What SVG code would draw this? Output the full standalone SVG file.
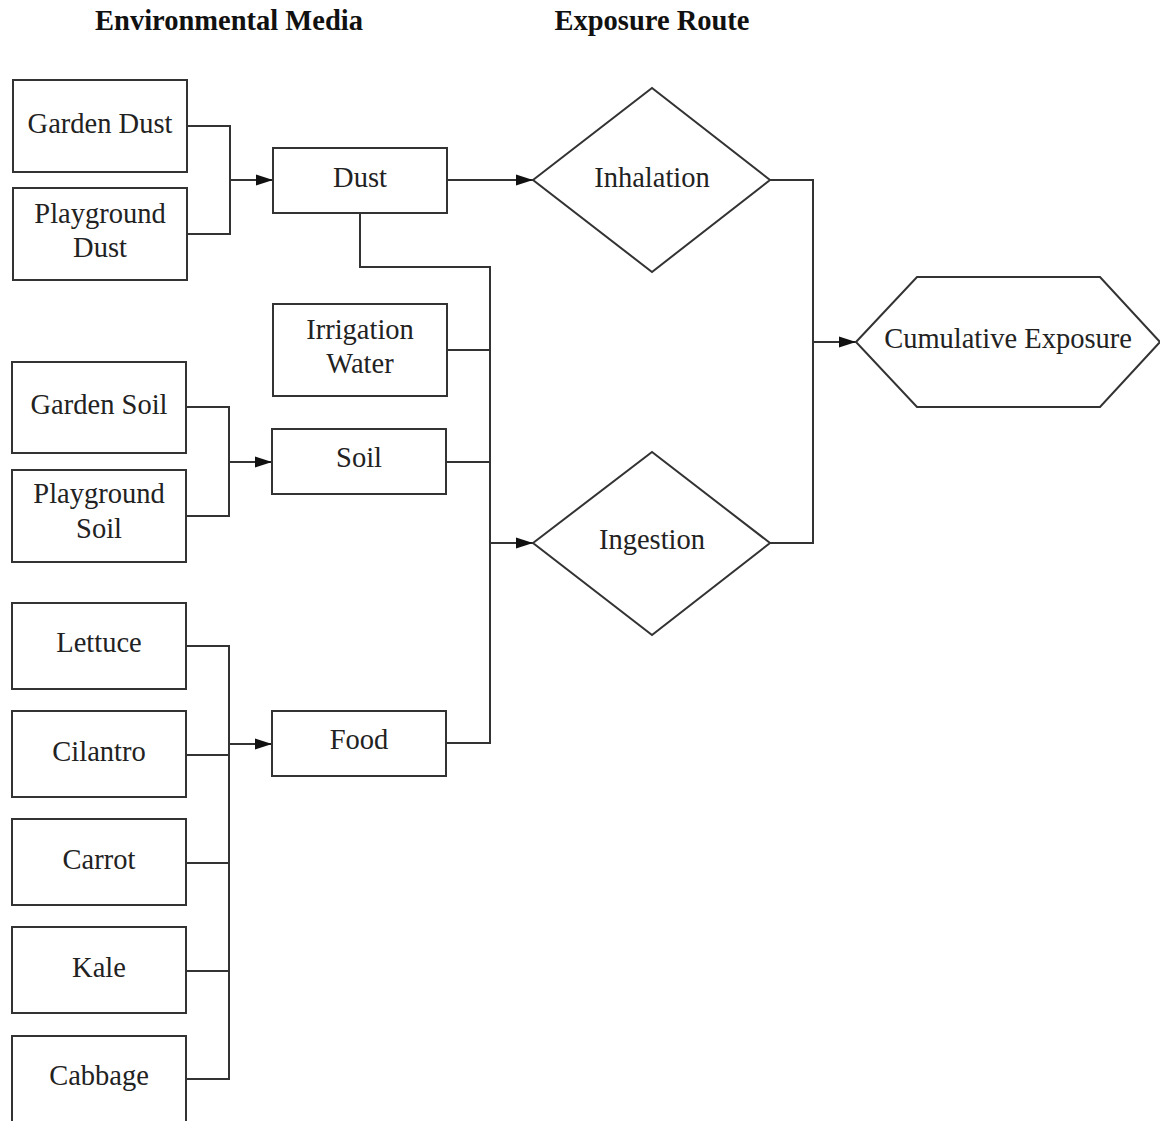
<svg xmlns="http://www.w3.org/2000/svg" width="1160" height="1121" viewBox="0 0 1160 1121">
<style>
.b{fill:#fff;stroke:#333;stroke-width:2}
.t{font-family:"Liberation Serif","Times New Roman",serif;font-size:28.5px;fill:#222;text-anchor:middle}
.h{font-family:"Liberation Serif","Times New Roman",serif;font-size:28.5px;font-weight:bold;fill:#111;text-anchor:middle}
.c{fill:none;stroke:#333;stroke-width:2}
</style>
<defs>
<marker id="ah" markerUnits="userSpaceOnUse" markerWidth="17" markerHeight="12" refX="17" refY="6" orient="auto">
<path d="M0,0.5 L17,6 L0,11.5 z" fill="#111"/>
</marker>
</defs>
<rect width="1160" height="1121" fill="#fff"/>
<text class="h" x="229" y="30">Environmental Media</text>
<text class="h" x="652" y="30">Exposure Route</text>

<g id="connectors">
<path class="c" d="M187,126 H230 V234 H187"/>
<path class="c" d="M230,180 H273" marker-end="url(#ah)"/>
<path class="c" d="M447,180 H533" marker-end="url(#ah)"/>
<path class="c" d="M360,213 V267 H490 V743 H446"/>
<path class="c" d="M447,350 H490"/>
<path class="c" d="M446,462 H490"/>
<path class="c" d="M490,543 H533" marker-end="url(#ah)"/>
<path class="c" d="M770,180 H813 V543 H770"/>
<path class="c" d="M813,342 H856" marker-end="url(#ah)"/>
<path class="c" d="M186,407 H229 V516 H186"/>
<path class="c" d="M229,462 H272" marker-end="url(#ah)"/>
<path class="c" d="M186,646 H229 V1079 H186"/>
<path class="c" d="M186,755 H229 M186,863 H229 M186,971 H229"/>
<path class="c" d="M229,744 H272" marker-end="url(#ah)"/>
</g>

<g id="garden-dust"><rect class="b" x="13" y="80" width="174" height="92"/><text class="t" x="100" y="133">Garden Dust</text></g>
<g id="playground-dust"><rect class="b" x="13" y="188" width="174" height="92"/><text class="t" x="100" y="223">Playground</text><text class="t" x="100" y="257">Dust</text></g>
<g id="dust"><rect class="b" x="273" y="148" width="174" height="65"/><text class="t" x="360" y="187">Dust</text></g>
<g id="irrigation-water"><rect class="b" x="273" y="304" width="174" height="92"/><text class="t" x="360" y="339">Irrigation</text><text class="t" x="360" y="373">Water</text></g>
<g id="garden-soil"><rect class="b" x="12" y="362" width="174" height="91"/><text class="t" x="99" y="414">Garden Soil</text></g>
<g id="playground-soil"><rect class="b" x="12" y="470" width="174" height="92"/><text class="t" x="99" y="503">Playground</text><text class="t" x="99" y="538">Soil</text></g>
<g id="soil"><rect class="b" x="272" y="429" width="174" height="65"/><text class="t" x="359" y="467">Soil</text></g>
<g id="lettuce"><rect class="b" x="12" y="603" width="174" height="86"/><text class="t" x="99" y="652">Lettuce</text></g>
<g id="cilantro"><rect class="b" x="12" y="711" width="174" height="86"/><text class="t" x="99" y="761">Cilantro</text></g>
<g id="carrot"><rect class="b" x="12" y="819" width="174" height="86"/><text class="t" x="99" y="869">Carrot</text></g>
<g id="kale"><rect class="b" x="12" y="927" width="174" height="86"/><text class="t" x="99" y="977">Kale</text></g>
<g id="cabbage"><rect class="b" x="12" y="1036" width="174" height="92"/><text class="t" x="99" y="1085">Cabbage</text></g>
<g id="food"><rect class="b" x="272" y="711" width="174" height="65"/><text class="t" x="359" y="749">Food</text></g>
<g id="inhalation"><polygon class="b" points="533,180 652,88 770,180 652,272"/><text class="t" x="652" y="187">Inhalation</text></g>
<g id="ingestion"><polygon class="b" points="533,543 652,452 770,543 652,635"/><text class="t" x="652" y="549">Ingestion</text></g>
<g id="cumulative-exposure"><polygon class="b" points="856,342 917,277 1100,277 1160,342 1100,407 917,407"/><text class="t" x="1008" y="348">Cumulative Exposure</text></g>
</svg>
